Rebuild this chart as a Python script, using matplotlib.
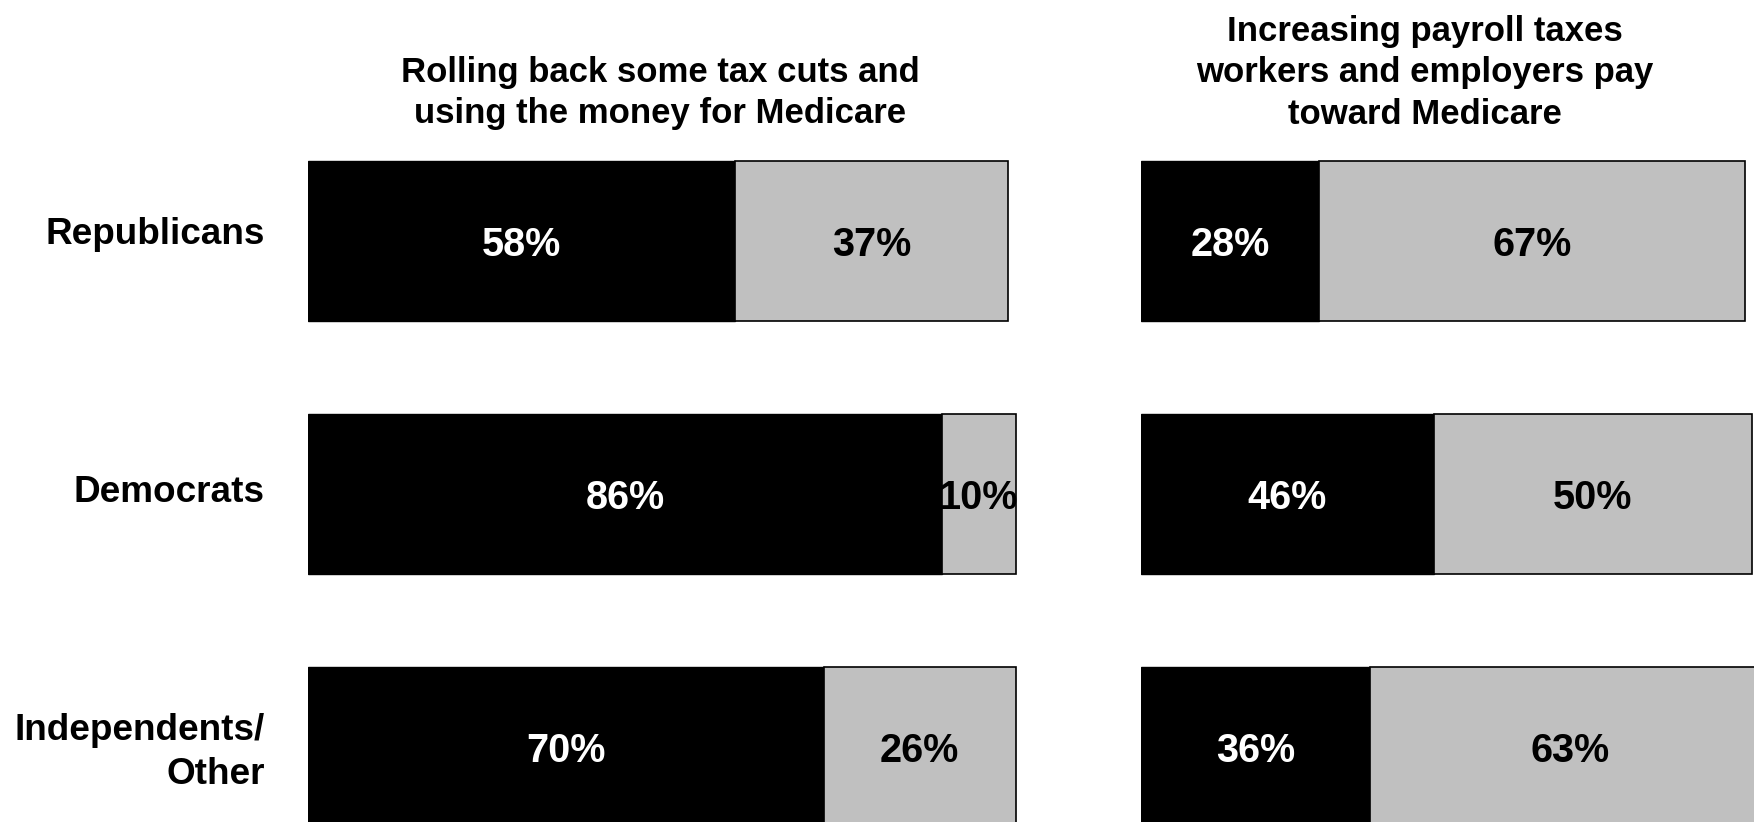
import matplotlib.pyplot as plt

plt.rcParams['font.family'] = ['Liberation Sans', 'DejaVu Sans']
plt.rcParams['font.weight'] = 'bold'

# Data
groups = ['Republicans', 'Democrats', 'Independents/\nOther']
titles = ['Rolling back some tax cuts and\nusing the money for Medicare',
          'Increasing payroll taxes\nworkers and employers pay\ntoward Medicare']
favor = [[58, 86, 70], [28, 46, 36]]
oppose = [[37, 10, 26], [67, 50, 63]]

W, H = 1754, 822
fig = plt.figure(figsize=(W / 100, H / 100), dpi=100)

# panel layout in pixels: left edge, px per percent, title centre
panels = [(308, 7.37, 660), (1141, 6.36, 1425)]
row_px = [241, 494, 747]
spacing = 253
label_shift = [-0.027, -0.005, 0.021]  # small nudges of the row labels

for i, (left, ppp, tx) in enumerate(panels):
    width = W - left if i == 1 else 100 * ppp
    ax = fig.add_axes([left / W, 0, width / W, 1])
    ax.set_xlim(0, width / ppp)
    ax.set_ylim((H - row_px[0]) / spacing, -row_px[0] / spacing)
    ax.axis('off')
    y = list(range(len(groups)))
    ax.barh(y, favor[i], height=0.63, color='black', edgecolor='black', linewidth=1)
    ax.barh(y, oppose[i], left=favor[i], height=0.63, color='#C0C0C0',
            edgecolor='black', linewidth=1.2)
    for j in y:
        ax.text(favor[i][j] / 2, j, f'{favor[i][j]}%', color='white',
                ha='center', va='center_baseline', fontsize=28.5, fontweight='bold')
        ax.text(favor[i][j] + oppose[i][j] / 2, j, f'{oppose[i][j]}%', color='black',
                ha='center', va='center_baseline', fontsize=28.5, fontweight='bold')
        if i == 0:
            ax.text(-43 / ppp, j + label_shift[j], groups[j], ha='right', va='center',
                    fontsize=26.6, fontweight='bold', linespacing=1.35, clip_on=False)
    fig.text(tx / W, 1 - 130.5 / H, titles[i], ha='center', va='bottom',
             fontsize=25, fontweight='bold', linespacing=1.32)

fig.savefig('out.png', dpi=100)
